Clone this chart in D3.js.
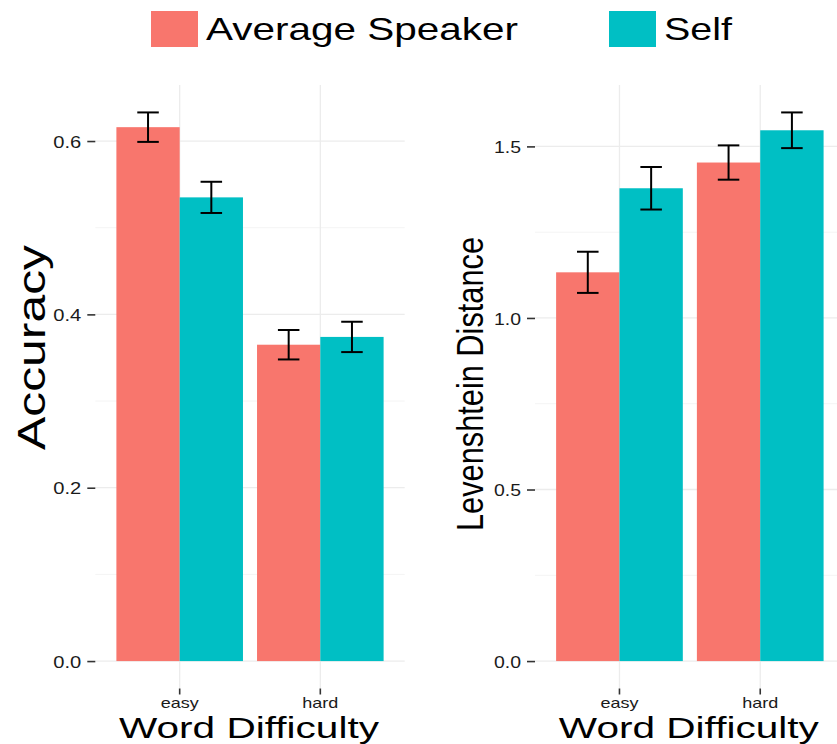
<!DOCTYPE html>
<html>
<head>
<meta charset="utf-8">
<script src="https://cdn.jsdelivr.net/npm/d3@7"></script>
<style>
  body { margin: 0; background: #fff; }
  svg { display: block; font-family: "Liberation Sans", Arial, Helvetica, sans-serif; }
</style>
</head>
<body>
<svg id="chart" width="837" height="744"></svg>
<script>
// categories and series
const difficulties = ["easy", "hard"];
const speakers = ["Average Speaker", "Self"];
const speakerColors = ["#F8766D", "#00BFC4"];

// accuracy panel (mean and half error bar), order: easy, hard
const accuracyAverage = [0.616, 0.365];
const accuracySelf = [0.535, 0.374];
const accuracyErrAverage = [0.017, 0.017];
const accuracyErrSelf = [0.018, 0.0175];
const accuracyTicks = [0.0, 0.2, 0.4, 0.6];

// levenshtein panel
const levAverage = [1.133, 1.453];
const levSelf = [1.378, 1.547];
const levErrAverage = [0.060, 0.050];
const levErrSelf = [0.062, 0.052];
const levTicks = [0.0, 0.5, 1.0, 1.5];

const svg = d3.select("#chart");
const panelTop = 85, panelBottom = 688.5;

function buildRows(avg, self, errAvg, errSelf) {
  const rows = [];
  difficulties.forEach((d, i) => {
    rows.push({difficulty: d, speaker: speakers[0], value: avg[i], err: errAvg[i]});
    rows.push({difficulty: d, speaker: speakers[1], value: self[i], err: errSelf[i]});
  });
  return rows;
}

function drawPanel(opts) {
  const rows = buildRows(opts.avg, opts.self, opts.errAvg, opts.errSelf);
  const g = svg.append("g");

  // ggplot style expansion: discrete 0.6, continuous 5%
  const x = d3.scaleBand()
    .domain(difficulties)
    .range([opts.left, opts.right])
    .paddingInner(0.1)
    .paddingOuter(0.15);
  const xSub = d3.scaleBand().domain(speakers).range([0, x.bandwidth()]);

  const hi = d3.max(rows, (r) => r.value + r.err);
  const pad = hi * 0.05;
  const y = d3.scaleLinear().domain([-pad, hi + pad]).range([panelBottom, panelTop]);

  // minor grid
  const minor = d3.pairs(opts.ticks).map((p) => (p[0] + p[1]) / 2);
  minor.push(opts.ticks[opts.ticks.length - 1] + (opts.ticks[1] - opts.ticks[0]) / 2);
  g.selectAll(".minor").data(minor.filter((v) => y(v) > panelTop)).join("line")
    .attr("x1", opts.left).attr("x2", opts.right)
    .attr("y1", (d) => y(d)).attr("y2", (d) => y(d))
    .style("stroke", "#f4f4f4").style("stroke-width", 1);

  // major grid
  g.selectAll(".major").data(opts.ticks).join("line")
    .attr("x1", opts.left).attr("x2", opts.right)
    .attr("y1", (d) => y(d)).attr("y2", (d) => y(d))
    .style("stroke", "#ececec").style("stroke-width", 1.3);
  g.selectAll(".vgrid").data(difficulties).join("line")
    .attr("x1", (d) => x(d) + x.bandwidth() / 2).attr("x2", (d) => x(d) + x.bandwidth() / 2)
    .attr("y1", panelTop).attr("y2", panelBottom)
    .style("stroke", "#ececec").style("stroke-width", 1.3);

  // bars
  g.selectAll(".bar").data(rows).join("rect")
    .attr("x", (d) => x(d.difficulty) + xSub(d.speaker))
    .attr("width", xSub.bandwidth())
    .attr("y", (d) => y(d.value))
    .attr("height", (d) => y(0) - y(d.value))
    .style("fill", (d) => speakerColors[speakers.indexOf(d.speaker)]);

  // error bars
  const capHalf = xSub.bandwidth() * 0.17;
  const eb = g.selectAll(".err").data(rows).join("g")
    .attr("transform", (d) => "translate(" + (x(d.difficulty) + xSub(d.speaker) + xSub.bandwidth() / 2) + ",0)");
  eb.append("line").attr("x1", 0).attr("x2", 0)
    .attr("y1", (d) => y(d.value + d.err)).attr("y2", (d) => y(d.value - d.err));
  eb.append("line").attr("x1", -capHalf).attr("x2", capHalf)
    .attr("y1", (d) => y(d.value + d.err)).attr("y2", (d) => y(d.value + d.err));
  eb.append("line").attr("x1", -capHalf).attr("x2", capHalf)
    .attr("y1", (d) => y(d.value - d.err)).attr("y2", (d) => y(d.value - d.err));
  eb.selectAll("line").style("stroke", "#000").style("stroke-width", 2);

  // y axis
  const yAxis = d3.axisLeft(y).tickValues(opts.ticks).tickFormat(d3.format(".1f"))
    .tickSize(8).tickPadding(6);
  const ya = g.append("g").attr("transform", "translate(" + opts.left + ",0)").call(yAxis);
  ya.select(".domain").remove();
  ya.selectAll(".tick line").style("stroke", "#333").style("stroke-width", 1.6);
  ya.selectAll(".tick text")
    .style("font-size", "17px").style("fill", "#1a1a1a")
    .attr("dy", "0.36em")
    .attr("textLength", opts.tickLabelWidth).attr("lengthAdjust", "spacingAndGlyphs");

  // x axis
  const xAxis = d3.axisBottom(x).tickSize(6).tickPadding(4);
  const xa = g.append("g").attr("transform", "translate(0," + panelBottom + ")").call(xAxis);
  xa.select(".domain").remove();
  xa.selectAll(".tick line").style("stroke", "#333").style("stroke-width", 1.6);
  xa.selectAll(".tick text")
    .style("font-size", "15px").style("fill", "#1a1a1a")
    .attr("y", 19).attr("dy", 0)
    .attr("textLength", (d) => d === "easy" ? 38 : 36).attr("lengthAdjust", "spacingAndGlyphs");

  // axis titles
  g.append("text")
    .attr("x", (opts.left + opts.right) / 2 - 1).attr("y", 738)
    .attr("text-anchor", "middle")
    .attr("textLength", 260).attr("lengthAdjust", "spacingAndGlyphs")
    .style("font-size", "29px").style("fill", "#000")
    .text("Word Difficulty");

  g.append("text")
    .attr("transform", "translate(" + opts.yTitleX + "," + opts.yTitleY + ") rotate(-90)")
    .attr("text-anchor", "middle")
    .attr("textLength", opts.yTitleLen).attr("lengthAdjust", "spacingAndGlyphs")
    .style("font-size", opts.yTitleSize + "px").style("fill", "#000")
    .text(opts.yTitle);
}

drawPanel({
  left: 95.3, right: 404.7,
  avg: accuracyAverage, self: accuracySelf, errAvg: accuracyErrAverage, errSelf: accuracyErrSelf,
  ticks: accuracyTicks, tickLabelWidth: 28,
  yTitle: "Accuracy", yTitleX: 45, yTitleY: 347.5, yTitleLen: 205, yTitleSize: 38
});

drawPanel({
  left: 535, right: 844.7,
  avg: levAverage, self: levSelf, errAvg: levErrAverage, errSelf: levErrSelf,
  ticks: levTicks, tickLabelWidth: 27,
  yTitle: "Levenshtein Distance", yTitleX: 483, yTitleY: 384, yTitleLen: 294, yTitleSize: 37
});

// legend
const legendX = [151, 609];
const legendTextLen = [312, 68];
const legend = svg.append("g");
speakers.forEach((s, i) => {
  legend.append("rect")
    .attr("x", legendX[i]).attr("y", 11)
    .attr("width", 47).attr("height", 36)
    .style("fill", speakerColors[i]);
  legend.append("text")
    .attr("x", legendX[i] + 55).attr("y", 40)
    .attr("textLength", legendTextLen[i]).attr("lengthAdjust", "spacingAndGlyphs")
    .style("font-size", "32px").style("fill", "#000")
    .text(s);
});
</script>
</body>
</html>
